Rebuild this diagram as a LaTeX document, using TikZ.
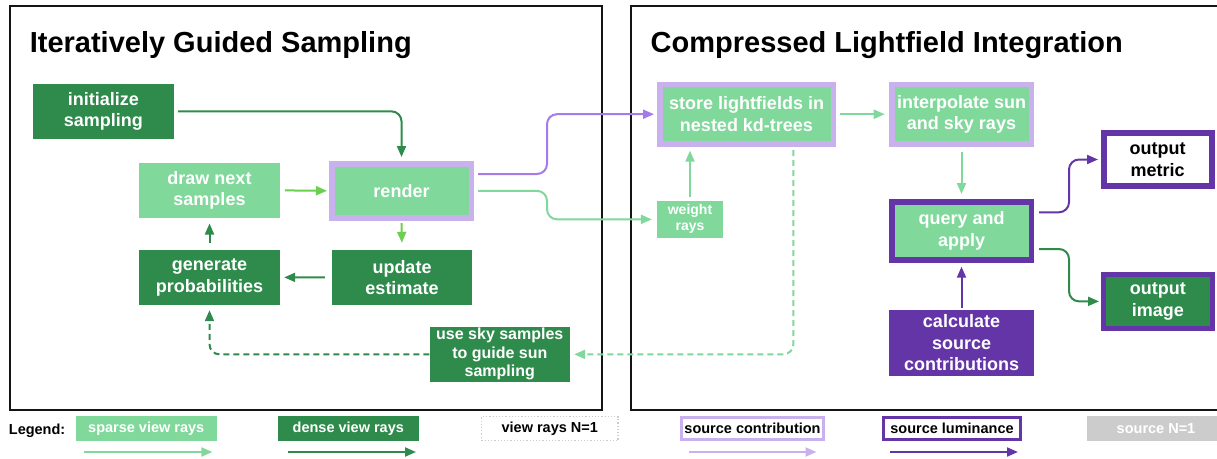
\documentclass[tikz,border=0pt]{standalone}
\usepackage{fontspec}
\setmainfont{Liberation Sans}
\usetikzlibrary{arrows.meta,calc}
\definecolor{lgreen}{RGB}{128,216,155}
\definecolor{dgreen}{RGB}{46,139,75}
\definecolor{bgreen}{RGB}{107,207,82}
\definecolor{lilac}{RGB}{201,177,238}
\definecolor{pline}{RGB}{165,122,235}
\definecolor{dpurple}{RGB}{100,53,166}
\definecolor{lgray}{RGB}{204,204,204}
\definecolor{framec}{RGB}{20,20,20}
\begin{document}
\begin{tikzpicture}[x=1pt,y=-1pt,
  box/.style={rectangle, inner sep=0pt, align=center, text=white,
    font=\bfseries\fontsize{18}{21.5}\selectfont},
  legbox/.style={rectangle, inner sep=0pt, align=center, minimum height=25.3pt,
    font=\bfseries\fontsize{14.5}{17}\selectfont},
  title/.style={anchor=base west, inner sep=0pt, font=\bfseries\fontsize{29}{34}\selectfont},
  panel/.style={draw=framec, line width=2pt},
  arr/.style={line width=2pt, -{Triangle[length=11pt,width=9pt]}},
  dsh/.style={dash pattern=on 6pt off 4pt},
  rc/.style={rounded corners=10pt}]
\clip (0,0) rectangle (1217,458);
\fill[white] (0,0) rectangle (1217,458);

% panels
\draw[panel] (10,6) rectangle (602,410);
\draw[panel] (631,6) rectangle (1230,410);
\node[title] (t1) at (29.6,52.7) {Iteratively Guided Sampling};
\node[title] (t2) at (650.5,52.7) {Compressed Lightfield Integration};

% left nodes
\node[box, fill=dgreen, minimum width=141.2pt, minimum height=54.7pt] (init) at (103.4,111.35) {initialize\\sampling};
\node[box, fill=lgreen, minimum width=141pt, minimum height=54.7pt] (draw) at (209.5,190.35) {draw next\\samples};
\node[box, fill=lgreen, draw=lilac, line width=5.5pt, minimum width=139.5pt, minimum height=54.2pt] (render) at (401.5,190.85) {render};
\node[box, fill=dgreen, minimum width=141pt, minimum height=54.7pt] (gen) at (209.5,277.35) {generate\\probabilities};
\node[box, fill=dgreen, minimum width=140pt, minimum height=55pt] (update) at (402,277.5) {update\\estimate};
\node[box, fill=dgreen, minimum width=140.4pt, minimum height=54.7pt, font=\bfseries\fontsize{16}{18.5}\selectfont] (usesky) at (499.8,354.35) {use sky samples\\to guide sun\\sampling};

% right nodes
\node[box, fill=lgreen, draw=lilac, line width=5.5pt, minimum width=173.5pt, minimum height=59.5pt] (store) at (746.5,114.2) {store lightfields in\\nested kd-trees};
\node[box, fill=lgreen, draw=lilac, line width=5.5pt, minimum width=139.5pt, minimum height=59.5pt] (interp) at (961.5,114.2) {interpolate sun\\and sky rays};
\node[box, fill=lgreen, draw=dpurple, line width=5.5pt, minimum width=139.5pt, minimum height=58.2pt] (query) at (961.5,230.85) {query and\\apply};
\node[box, fill=lgreen, minimum width=66pt, minimum height=36.7pt, font=\bfseries\fontsize{14}{16}\selectfont] (weight) at (690,219.35) {weight\\rays};
\node[box, fill=white, text=black, draw=dpurple, line width=6pt, minimum width=108.2pt, minimum height=53pt] (metric) at (1157.7,159.5) {output\\metric};
\node[box, fill=dgreen, draw=dpurple, line width=5.5pt, minimum width=108.9pt, minimum height=53.8pt] (image) at (1157.8,301.35) {output\\image};
\node[box, fill=dpurple, minimum width=145pt, minimum height=65.7pt] (calc) at (961.5,342.85) {calculate\\source\\contributions};

% helper coordinates
\coordinate (m1) at (547,0);
\coordinate (m2) at (1069,0);

% left connectors
\draw[arr, dgreen, rc, shorten <=4pt, shorten >=4pt] (init.east) -| (render.north);
\draw[arr, bgreen, shorten <=4.6pt, shorten >=2pt] (draw.east) -- (render.west);
\draw[arr, bgreen, shorten <=2.5pt, shorten >=7pt] (render.south) -- (update.north);
\draw[arr, dgreen, shorten <=7.3pt, shorten >=5.6pt] (gen.north) -- (draw.south);
\draw[arr, dgreen, shorten <=7pt, shorten >=4pt] (update.west) -- (gen.east);
\draw[arr, dgreen, dsh, rc, shorten >=5.3pt] (usesky.west) -| (gen.south);

% cross connectors
\draw[arr, pline, rc, shorten <=4pt, shorten >=3pt] ([yshift=16.85pt]render.east) -| (m1 |- store.west) -- (store.west);
\draw[arr, lgreen, rc, shorten <=4pt, shorten >=5pt] (render.east) -| (m1 |- weight.west) -- (weight.west);

% right connectors
\draw[arr, lgreen, shorten <=3.7pt, shorten >=4.3pt] (store.east) -- (interp.west);
\draw[arr, lgreen, shorten <=4pt, shorten >=4pt] (weight.north) -- (weight.north |- store.south);
\draw[arr, lgreen, shorten <=5pt, shorten >=5pt] (interp.south) -- (query.north);
\draw[arr, dpurple, shorten <=2pt, shorten >=4pt] (calc.north) -- (query.south);
\draw[arr, dpurple, rc, shorten <=5pt, shorten >=2.6pt] ([yshift=18.55pt]query.east) -| (m2 |- metric.west) -- (metric.west);
\draw[arr, dgreen, rc, shorten <=5pt, shorten >=1.6pt] ([yshift=-18.15pt]query.east) -| (m2 |- image.west) -- (image.west);
\draw[arr, lgreen, dsh, rc, shorten <=3.3pt, shorten >=4pt] ($(store.south)+(46.8,0)$) |- (usesky.east);

% legend
\node[anchor=base west, inner sep=0pt, font=\bfseries\fontsize{14.5}{17}\selectfont] (leg) at (8.7,434) {Legend:};
\node[legbox, fill=lgreen, text=white, minimum width=140.7pt] (l1) at (146.25,428.65) {sparse view rays};
\node[legbox, fill=dgreen, text=white, minimum width=140.6pt] (l2) at (348.3,428.65) {dense view rays};
\node[legbox, fill=white, draw=lgray, line width=1.2pt, dotted, minimum width=136.4pt, minimum height=24.1pt] (l3) at (549.8,428.65) {view rays N=1};
\node[legbox, fill=white, draw=lilac, line width=3pt, minimum width=142pt, minimum height=22.3pt] (l4) at (752.5,428.65) {source contribution};
\node[legbox, fill=white, draw=dpurple, line width=3pt, minimum width=137pt, minimum height=22.3pt] (l5) at (952,428.65) {source luminance};
\node[legbox, fill=lgray, text=white, minimum width=138pt] (l6) at (1156,428.65) {source N=1};

\coordinate (a1s) at (83.8,452); \coordinate (a1e) at (212.3,452);
\coordinate (a2s) at (287.7,452); \coordinate (a2e) at (416,452);
\coordinate (a3s) at (688.6,452); \coordinate (a3e) at (816.5,452);
\coordinate (a4s) at (890,452); \coordinate (a4e) at (1018,452);
\draw[arr, lgreen] (a1s) -- (a1e);
\draw[arr, dgreen] (a2s) -- (a2e);
\draw[arr, lilac] (a3s) -- (a3e);
\draw[arr, dpurple] (a4s) -- (a4e);
\end{tikzpicture}
\end{document}
